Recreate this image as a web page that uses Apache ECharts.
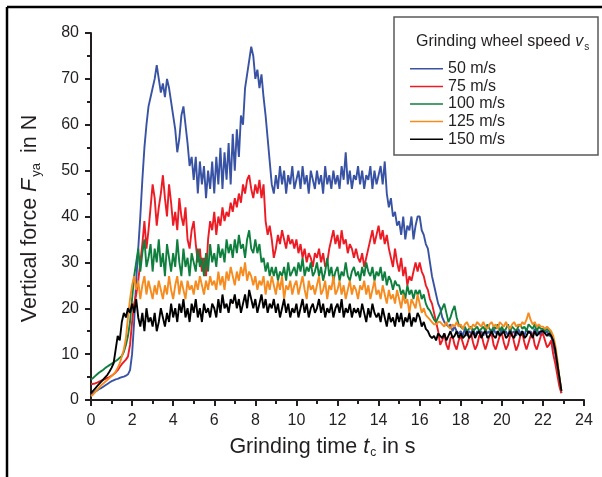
<!DOCTYPE html>
<html>
<head>
<meta charset="utf-8">
<script src="https://cdn.jsdelivr.net/npm/echarts@6/dist/echarts.min.js"></script>
<style>
	html, body { margin: 0; padding: 0; background: #fff; }
	#chart { width: 602px; height: 477px; }
</style>
</head>
<body>
<div id="chart"></div>
<script>
	// sample spacing of the measured signals, in s
	const timeStep = 0.1;

	const speedNames = ["50 m/s", "75 m/s", "100 m/s", "125 m/s", "150 m/s"];
	const speedColors = ["#3953a4", "#ed1c24", "#0f7f3e", "#f68b1f", "#000000"];

	// vertical force in N, one row per second (0 .. 22.9 s)
	const force50 = [
		1.0, 1.4, 1.8, 2.1, 2.4, 2.6, 2.9, 3.2, 3.5, 3.8,
		4.1, 4.3, 4.5, 4.6, 4.8, 5.0, 5.1, 5.3, 5.6, 6.5,
		10, 17, 26, 33, 40, 48, 55, 60, 64, 66,
		68, 70, 73, 70, 67, 69, 66, 70, 68, 65,
		62, 59, 54, 57, 62, 64, 60, 56, 51, 53,
		48, 53, 45, 52, 47, 51, 44, 50, 46, 52,
		45, 53, 47, 55, 46, 54, 48, 56, 47, 58,
		50, 59, 53, 62, 60, 68, 71, 74, 77, 75,
		70, 72, 68, 71, 66, 62, 57, 52, 47, 45,
		49, 46, 51, 47, 50, 45, 49, 47, 51, 46,
		48, 50, 46, 51, 47, 49, 45, 50, 48, 46,
		50, 47, 49, 45, 51, 47, 49, 46, 50, 47,
		49, 46, 51, 48, 54, 47, 50, 46, 49, 48,
		51, 47, 50, 46, 49, 48, 51, 46, 50, 47,
		49, 51, 47, 52, 45, 42, 44, 40, 41, 38,
		39, 36, 40, 35, 38, 37, 40, 35, 38, 40,
		40, 37, 36, 34, 33, 30, 27, 25, 23, 21,
		20, 18, 17, 16.5, 16, 16.5, 15, 16, 15, 14.5,
		15, 14, 15.5, 14, 15, 14.5, 15.5, 14, 15, 14.5,
		15, 14, 15.5, 14.5, 15, 14, 15.5, 14.5, 15, 14,
		15.5, 14.5, 15, 14, 15.5, 14.5, 15, 14, 15.5, 14.5,
		15, 14, 15.5, 14.5, 15, 14, 15.5, 14.5, 15, 14,
		15.5, 14.5, 15, 14, 14, 12, 10, 7, 4, 1.5,
	];

	const force75 = [
		3.5, 3.5, 3.6, 3.8, 4.0, 4.2, 4.4, 4.6, 4.8, 5.0,
		5.3, 5.6, 6.0, 6.5, 7.2, 7.8, 8.3, 8.8, 9.5, 12,
		17, 21, 23, 26, 30, 34, 39, 33, 37, 42,
		47, 44, 38, 42, 45, 49, 44, 40, 47, 43,
		38, 41, 37, 44, 40, 38, 42, 35, 33, 37,
		39, 34, 30, 33, 28, 31, 27, 35, 39, 37,
		41, 36, 40, 38, 42, 39, 41, 40, 43, 41,
		44, 42, 45, 43, 47, 45, 48, 49, 46, 44,
		47, 45, 48, 44, 47, 39, 36, 38, 35, 31,
		33, 36, 34, 37, 35, 33, 36, 34, 35, 33,
		35, 32, 34, 31, 33, 30, 32, 31, 29, 32,
		31, 33, 30, 32, 29, 30, 33, 35, 37, 34,
		36, 33, 37, 34, 35, 32, 34, 33, 31, 33,
		31, 30, 32, 29, 31, 33, 35, 37, 34, 36,
		38, 35, 37, 34, 36, 33, 31, 29, 33, 30,
		28, 31, 27, 29, 25, 27, 26, 28, 30, 28,
		30, 28, 27, 25, 24, 22, 21, 19, 17, 15,
		12, 13, 14.5, 12, 11, 13.5, 14, 12, 11, 13,
		14, 12.5, 11, 12, 13.5, 14.5, 12.5, 11, 12, 14,
		14.5, 12.5, 11, 12.5, 14, 14.5, 12, 11, 12.5, 14,
		14.5, 12.5, 11, 12, 14, 14.5, 12.5, 10.8, 12, 14,
		14.5, 12.5, 11, 12.5, 14, 14.5, 12, 11, 12.5, 14,
		14.5, 13, 11.5, 12, 13, 10, 8, 5.5, 3, 1.5,
	];

	const force100 = [
		4.5, 4.8, 5.2, 5.6, 6.0, 6.3, 6.6, 7.0, 7.3, 7.6,
		7.9, 8.2, 8.5, 8.8, 9.2, 9.6, 10.5, 12, 14, 17,
		22, 27, 30, 33, 28, 32, 35, 29, 31, 34,
		28, 33, 30, 35, 29, 32, 27, 34, 31, 28,
		32, 29, 35, 30, 27, 33, 29, 31, 27, 32,
		30, 28, 33, 29, 31, 27, 32, 28, 34, 30,
		32, 29, 34, 31, 33, 30, 35, 32, 34, 31,
		35, 32, 36, 33, 34, 31, 35, 37, 33, 32,
		35, 32, 34, 30, 31, 28, 30, 27, 29, 27,
		29, 26, 28, 27, 29, 26, 30, 27, 28, 29,
		27, 30, 28, 31, 27, 29, 28, 30, 27, 28,
		30, 27, 29, 26, 28, 31, 27, 29, 26, 28,
		29, 26, 28, 27, 30, 27, 26, 28, 29, 27,
		28, 26, 29, 27, 30, 28, 27, 29, 26, 28,
		27, 29, 26, 28, 25, 27, 26, 24, 26, 25,
		25, 23, 24, 22, 25, 23, 24, 22, 24, 23,
		24, 22, 23, 21, 20, 19.5, 18.5, 17.5, 17, 18,
		19, 20, 21, 19, 17, 18, 19.5, 20.5, 18, 16.5,
		16, 15.5, 16, 15, 15.5, 16, 15, 15.5, 16, 15,
		15.5, 16, 15, 16.5, 15.5, 15, 16, 15.5, 16.5, 15,
		16, 15, 15.5, 16.5, 15, 16, 15.5, 15, 16, 16.5,
		15.5, 16, 15, 16.5, 16, 15.5, 16.5, 15, 16, 15.5,
		15.5, 15, 15.5, 15, 14.5, 13, 11, 8, 5, 2,
	];

	const force125 = [
		0.8, 1.2, 1.7, 2.2, 2.7, 3.2, 3.6, 4.0, 4.4, 4.8,
		5.2, 5.6, 6.2, 7.0, 8.0, 9.5, 11, 13.5, 18, 22,
		25, 27, 24, 26, 22, 25, 27, 23, 26, 24,
		22, 25, 23, 26, 24, 22, 25, 23, 27, 24,
		22, 25, 27, 23, 26, 24, 22, 26, 24, 25,
		23, 26, 24, 27, 25, 23, 26, 24, 27, 25,
		26, 24, 28, 25, 27, 24, 28, 26, 29, 27,
		25, 28, 26, 29, 27, 30, 26, 28, 27, 25,
		27, 24, 26, 25, 27, 23, 26, 24, 27, 25,
		23, 26, 24, 27, 22, 25, 24, 26, 23, 25,
		26, 23, 25, 27, 24, 22, 26, 24, 25, 23,
		25, 27, 23, 24, 26, 22, 25, 24, 27, 23,
		24, 26, 23, 25, 22, 24, 26, 23, 25, 24,
		22, 25, 24, 26, 23, 25, 22, 24, 26, 23,
		24, 22, 25, 23, 21, 24, 22, 23, 21, 24,
		22, 20, 23, 21, 22, 19, 22, 21, 20, 23,
		21, 19, 20, 18.5, 18, 17.5, 17, 16.5, 16.5, 17,
		17, 16.5, 16, 17, 16, 15.5, 16.5, 16, 17, 16,
		16.5, 15.5, 16.5, 17, 16, 15.5, 16.5, 16, 17, 16.5,
		16, 17, 16, 15.5, 16.5, 17, 16, 16.5, 15.5, 17,
		16.5, 16, 17, 16, 15.5, 16.5, 17, 16, 16.5, 16,
		17, 16.5, 17.5, 19, 17.5, 16.5, 17, 16, 16.5, 16,
		16, 15.5, 16, 15.5, 15, 14, 12, 9, 5, 2,
	];

	const force150 = [
		1.5, 2.0, 2.5, 3.0, 3.5, 4.0, 4.5, 5.0, 5.5, 6.2,
		7.0, 8.0, 11, 14, 13, 17, 19, 18, 20, 19,
		21, 19, 22, 18, 16, 19, 15, 20, 17, 18,
		16, 19, 15, 17, 20, 18, 16, 19, 17, 21,
		18, 20, 17, 21, 19, 22, 18, 20, 17, 21,
		19, 22, 18, 20, 17, 21, 19, 20, 18, 21,
		20, 18, 22, 19, 23, 20, 21, 19, 22, 21,
		23, 20, 22, 19, 21, 23, 20, 24, 22, 20,
		22, 19, 21, 23, 20, 22, 19, 21, 20, 22,
		19, 21, 18, 20, 22, 19, 21, 18, 20, 19,
		21, 18, 20, 22, 19, 21, 18, 20, 21, 19,
		20, 22, 19, 21, 18, 20, 19, 21, 18, 20,
		21, 19, 22, 18, 20, 19, 21, 18, 20, 19,
		20, 18, 21, 19, 17, 20, 18, 21, 19, 18,
		19, 17, 20, 18, 16, 19, 17, 18, 16, 19,
		17, 19, 16, 18, 17, 19, 16, 18, 17, 19,
		18, 16, 17, 15.5, 15, 14, 13.5, 14, 13, 14.5,
		14, 13.5, 14.5, 13, 14, 15, 13.5, 14, 15, 13.5,
		14.5, 13.5, 14, 15, 13.5, 14, 15, 13.5, 14.5, 15,
		13.5, 14.5, 15, 13.5, 14, 15, 14, 13.5, 15, 14,
		14.5, 15, 13.5, 14, 15, 14, 13.5, 15, 14.5, 14,
		15, 13.5, 14, 15, 14.5, 13.5, 15, 14, 14.5, 15,
		15, 14.5, 14, 14.5, 14, 13, 11, 8, 5, 2,
	];

	const forceSeries = [force50, force75, force100, force125, force150];

	const xTicks = { min: 0, max: 24, interval: 2 };
	const yTicks = { min: 0, max: 80, interval: 10 };

	const chart = echarts.init(document.getElementById("chart"), null, { renderer: "canvas" });

	const font = "Liberation Sans, Arial, sans-serif";
	const inkColor = "#231f20";

	function toPairs(values) {
		return values.map((v, i) => [Number((i * timeStep).toFixed(2)), v]);
	}

	const axisCommon = {
		axisLine: { lineStyle: { color: inkColor, width: 2 } },
		axisTick: { inside: false, length: 6, lineStyle: { color: inkColor, width: 2 } },
		minorTick: { show: true, splitNumber: 2, length: 4, lineStyle: { color: inkColor, width: 2 } },
		splitLine: { show: false },
		axisLabel: { color: inkColor, fontSize: 16, fontFamily: font },
	};

	const option = {
		backgroundColor: "#fff",
		animation: false,
		grid: { left: 91, right: 18, top: 33, bottom: 77 },
		xAxis: Object.assign({}, axisCommon, {
			type: "value",
			min: xTicks.min,
			max: xTicks.max,
			interval: xTicks.interval,
			axisLabel: Object.assign({}, axisCommon.axisLabel, { margin: 13 }),
			name: "{t|Grinding time }{i|t}{s|c}{t| in s}",
			nameLocation: "middle",
			nameGap: 35,
			nameTextStyle: {
				padding: [0, 30, 0, 0],
				rich: {
					t: { fontSize: 21.5, color: inkColor, fontFamily: font },
					i: { fontSize: 21.5, color: inkColor, fontFamily: font, fontStyle: "italic" },
					s: { fontSize: 12, color: inkColor, fontFamily: font, verticalAlign: "bottom", padding: [12, 0, 0, 1] },
				},
			},
		}),
		yAxis: Object.assign({}, axisCommon, {
			type: "value",
			min: yTicks.min,
			max: yTicks.max,
			interval: yTicks.interval,
			axisLabel: Object.assign({}, axisCommon.axisLabel, { margin: 12 }),
			name: "{t|Vertical force }{i|F}{s|ya}{t| in N}",
			nameLocation: "middle",
			nameGap: 48,
			nameTextStyle: {
				padding: [0, 4, 0, 0],
				rich: {
					t: { fontSize: 21.5, color: inkColor, fontFamily: font },
					i: { fontSize: 21.5, color: inkColor, fontFamily: font, fontStyle: "italic" },
					s: { fontSize: 13, color: inkColor, fontFamily: font, verticalAlign: "bottom", padding: [12, 4, 0, 2] },
				},
			},
		}),
		legend: {
			orient: "vertical",
			left: 405,
			top: 55,
			itemWidth: 33,
			itemHeight: 1.5,
			itemGap: 0,
			icon: "rect",
			z: 20,
			textStyle: { color: inkColor, fontSize: 16, fontFamily: font, lineHeight: 17.6, padding: [0, 0, 0, 0] },
			data: speedNames,
		},
		graphic: [
			// figure frame (top and left edges)
			{ type: "line", shape: { x1: 7, y1: 7, x2: 602, y2: 7 }, style: { stroke: "#000", lineWidth: 2.5 } },
			{ type: "line", shape: { x1: 7, y1: 7, x2: 7, y2: 477 }, style: { stroke: "#000", lineWidth: 2.5 } },
			// legend box
			{
				type: "rect",
				shape: { x: 394, y: 17, width: 204, height: 138 },
				style: { fill: "none", stroke: "#595959", lineWidth: 1.5 },
				z: 10,
			},
			{
				type: "text",
				left: 416,
				top: 34,
				z: 11,
				style: {
					text: "{t|Grinding wheel speed }{i|v}{s|s}",
					rich: {
						t: { fontSize: 16, fill: inkColor, fontFamily: font },
						i: { fontSize: 16, fill: inkColor, fontFamily: font, fontStyle: "italic" },
						s: { fontSize: 10, fill: inkColor, fontFamily: font, verticalAlign: "bottom", padding: [10, 0, 0, 1] },
					},
				},
			},
		],
		series: forceSeries.map((values, k) => ({
			name: speedNames[k],
			type: "line",
			data: toPairs(values),
			showSymbol: false,
			symbol: "none",
			lineStyle: { color: speedColors[k], width: 1.9 },
			itemStyle: { color: speedColors[k] },
			z: 2 + k,
		})),
	};

	chart.setOption(option);
</script>
</body>
</html>
